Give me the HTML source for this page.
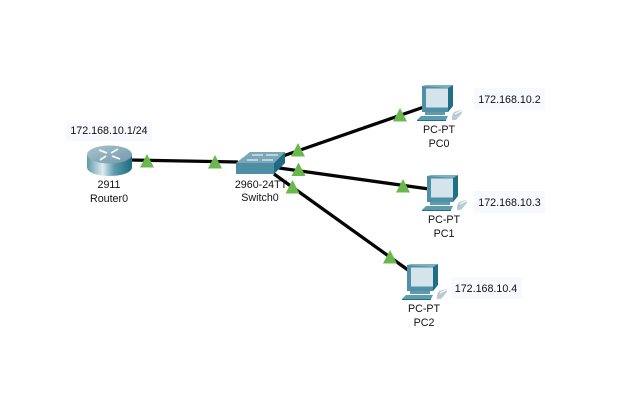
<!DOCTYPE html>
<html>
<head>
<meta charset="utf-8">
<style>
html,body{margin:0;padding:0;background:#fff;}
svg{display:block;}
text{font-family:"Liberation Sans",sans-serif;font-size:10.7px;fill:#111;text-anchor:middle;}
</style>
</head>
<body>
<svg width="630" height="406" viewBox="0 0 630 406" xmlns="http://www.w3.org/2000/svg">
<defs>
<linearGradient id="rg" x1="0" x2="1" y1="0" y2="0">
<stop offset="0" stop-color="#5f98a8"/>
<stop offset=".35" stop-color="#dcebef"/>
<stop offset=".6" stop-color="#5f9cae"/>
<stop offset="1" stop-color="#1c6a80"/>
</linearGradient>
<linearGradient id="rt" x1="0" x2="1" y1="0" y2="1">
<stop offset="0" stop-color="#a9c4cf"/>
<stop offset="1" stop-color="#7298a8"/>
</linearGradient>
<g id="pc">
<polygon points="5,1 35,1 35,22 31,27 5,27" fill="#4f90a6"/>
<polygon points="31,3 36,0 36,21 31,27" fill="#1f6f86"/>
<polygon points="5,1 9,0 36,0 31,3" fill="#7fb0c0"/>
<rect x="9" y="3.500" width="22" height="19" fill="#d5e3ea"/>
<rect x="8" y="27" width="20" height="3" fill="#5f9aad"/>
<polygon points="4,31 31,31 29,35 0,35" fill="#5d9cb0"/>
<polygon points="0,35 29,35 29,36 0,36" fill="#256f86"/>
<polygon points="37,27 44,25 45,28 39,35 35,35 35,31" fill="#b9ccd4"/>
<path d="M38 29 L44 26" stroke="#fff" stroke-width="1" fill="none"/>
</g>
<polygon id="tri" points="0,-7 7,6.500 -7,6.500" fill="#6ab84c"/>
</defs>

<!-- Label backgrounds -->
<rect x="66" y="122" width="86" height="19" fill="#f8f8ff"/>
<rect x="474" y="88" width="71" height="22" fill="#f8f8ff"/>
<rect x="474" y="191" width="71" height="22" fill="#f8f8ff"/>
<rect x="451" y="277" width="71" height="22" fill="#f8f8ff"/>

<!-- Links -->
<g stroke="#050505" stroke-width="3.300" fill="none">
<line x1="130" y1="160" x2="238" y2="162"/>
<line x1="283" y1="156" x2="424" y2="107"/>
<line x1="272" y1="167" x2="429" y2="189"/>
<line x1="274" y1="174" x2="408" y2="270"/>
</g>

<!-- Router -->
<path d="M87 154 V167 C87 179 132 179 132 167 V154 Z" fill="url(#rg)"/>
<ellipse cx="109.500" cy="154.500" rx="22.500" ry="9" fill="url(#rt)"/>
<g stroke="#eef5f7" stroke-width="1.800" fill="none">
<path d="M99 150 L107 153"/>
<path d="M112 156 L120 159"/>
<path d="M118 149 L111 153"/>
<path d="M106 156 L100 160"/>
</g>

<!-- Switch -->
<polygon points="236,163 250,152 285,152 274,163" fill="#7aa7b7"/>
<polygon points="236,163 274,163 274,174 236,174" fill="#4f8fa6"/>
<polygon points="274,163 285,152 285,163 274,174" fill="#1f6b83"/>
<g stroke="#e8f1f4" stroke-width="1.200" fill="none">
<path d="M252 155 L263 155"/>
<path d="M266 155 L278 155"/>
<path d="M247 160 L258 160"/>
<path d="M262 160 L273 160"/>
</g>

<!-- PCs -->
<use href="#pc" x="417" y="85"/>
<use href="#pc" x="422" y="175"/>
<use href="#pc" x="402" y="264"/>

<!-- Labels -->
<text x="109" y="134">172.168.10.1/24</text>
<text x="109" y="188">2911</text>
<text x="109" y="202">Router0</text>
<text x="261" y="188">2960-24TT</text>
<text x="260" y="201">Switch0</text>
<text x="439" y="133">PC-PT</text>
<text x="439" y="147">PC0</text>
<text x="444" y="223">PC-PT</text>
<text x="444" y="237">PC1</text>
<text x="424" y="312">PC-PT</text>
<text x="424" y="326">PC2</text>
<text x="509.500" y="103">172.168.10.2</text>
<text x="509.500" y="206">172.168.10.3</text>
<text x="486" y="292">172.168.10.4</text>

<!-- Link lights -->
<use href="#tri" x="147" y="161"/>
<use href="#tri" x="215" y="162"/>
<use href="#tri" x="298" y="150"/>
<use href="#tri" x="400" y="115"/>
<use href="#tri" x="298.500" y="169.500"/>
<use href="#tri" x="403" y="186"/>
<use href="#tri" x="292.500" y="187"/>
<use href="#tri" x="390" y="257"/>
</svg>
</body>
</html>
